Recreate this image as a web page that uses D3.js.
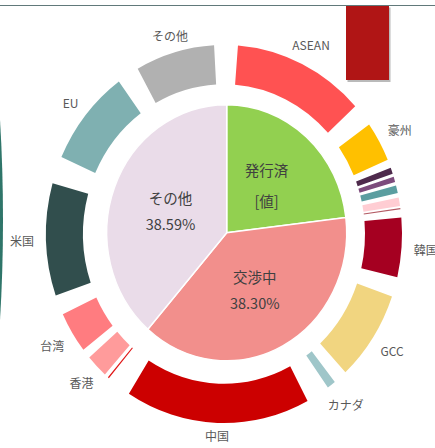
<!DOCTYPE html>
<html>
<head>
<meta charset="utf-8">
<script src="https://cdn.jsdelivr.net/npm/d3@7"></script>
<style>
  body { margin: 0; background: #fff; }
  text { font-family: "Noto Sans CJK JP", "Noto Sans", sans-serif; }
</style>
</head>
<body>
<script>
// 内側の円グラフ
const pieLabels = ["発行済", "交渉中", "その他"];
const pieValues = [23.11, 38.30, 38.59];
const pieValueText = ["[値]", null, null];   // 1つ目はExcelのプレースホルダのまま
const pieColors = ["#92d050", "#f28f8c", "#eadce9"];

// 外側のリング（相手国・地域）、角度の比率で読み取り
const ringLabels = ["ASEAN", "豪州", "", "", "", "", "", "韓国", "GCC", "カナダ", "中国", "", "香港", "台湾", "米国", "EU", "その他"];
const ringValues = [43.0, 12.3, 1.9, 1.6, 2.4, 2.6, 0.4, 18.2, 27.7, 2.8, 60.3, 0.4, 7.2, 12.7, 34.6, 29.8, 25.8];
// 各セグメントの前のすき間（最後の値は末尾のすき間）
const ringGaps = [4.5, 7.1, 2.6, 1.0, 1.1, 1.4, 0.6, 2.5, 6.1, 4.5, 7.7, 8.0, 1.3, 3.0, 6.1, 8.4, 7.2, 3.2];
const ringColors = ["#ff5252", "#ffc000", "#4e2a4c", "#7d4b7c", "#5b9ea0", "#ffcdd3", "#b35a64",
                    "#a50021", "#f1d580", "#9fc6c9", "#cc0000", "#e01818", "#ff9b9b", "#ff7c80",
                    "#314e4d", "#7fb0b1", "#b1b1b1"];

const W = 435, H = 448;
const svg = d3.select("body").append("svg")
    .attr("width", W).attr("height", H)
    .attr("viewBox", `0 0 ${W} ${H}`);

// 上の枠線
svg.append("line")
    .attr("x1", 0).attr("x2", W).attr("y1", 5.5).attr("y2", 5.5)
    .style("stroke", "#61797a").style("stroke-width", 1);

// 左端に切れている図形
const grad = svg.append("defs").append("linearGradient").attr("id", "edge")
    .attr("x1", "0").attr("x2", "1").attr("y1", "0").attr("y2", "0");
grad.append("stop").attr("offset", "0%").attr("stop-color", "#7fb2a8");
grad.append("stop").attr("offset", "100%").attr("stop-color", "#2d7468");
svg.append("ellipse")
    .attr("cx", -37).attr("cy", 220).attr("rx", 40).attr("ry", 263)
    .style("fill", "url(#edge)");

// 右上に切れている棒
svg.append("rect").attr("x", 347.5).attr("y", 7.5).attr("width", 43).attr("height", 74.5)
    .style("fill", "#8c8c8c").style("opacity", 0.6);
svg.append("rect").attr("x", 346).attr("y", 6).attr("width", 43).attr("height", 74)
    .style("fill", "#b01515");

// ---- リング ----
const ringCx = 224, ringCy = 234, ringSy = 1.062;
const rIn = 141, rOut = 178;

let ringData = [];
ringValues.forEach((v, i) => {
    ringData.push({gap: true, v: ringGaps[i]});
    ringData.push({gap: false, v: v, label: ringLabels[i], color: ringColors[i]});
});
ringData.push({gap: true, v: ringGaps[ringGaps.length - 1]});

const ringPie = d3.pie().sort(null).value(d => d.v);
const ringArcs = ringPie(ringData).filter(d => !d.data.gap);
const ringArc = d3.arc().innerRadius(rIn).outerRadius(rOut);

const ringG = svg.append("g")
    .attr("transform", `translate(${ringCx},${ringCy}) scale(1,${ringSy})`);
ringG.selectAll("path.seg")
    .data(ringArcs)
    .enter().append("path")
    .attr("class", "seg")
    .attr("d", ringArc)
    .style("fill", d => d.data.color);

// ラベル（リングの外側）
const labG = svg.append("g").attr("transform", `translate(${ringCx},${ringCy})`);
const lab = labG.selectAll("text.lab")
    .data(ringArcs.filter(d => d.data.label))
    .enter().append("text")
    .attr("class", "lab")
    .attr("text-anchor", "middle")
    .attr("dominant-baseline", "central")
    .style("font-size", "12px")
    .style("fill", "#595959")
    .text(d => d.data.label);

lab.each(function(d) {
    const a = (d.startAngle + d.endAngle) / 2;
    const hw = this.getComputedTextLength() / 2;
    const r = 186 + (hw + 4) * Math.abs(Math.sin(a)) + 3 * Math.abs(Math.cos(a));
    d3.select(this)
        .attr("x", r * Math.sin(a))
        .attr("y", -r * Math.cos(a) * ringSy);
});

// ---- 円グラフ ----
const pieCx = 226.7, pieCy = 232.7, pieSy = 1.067, pieR = 120;
const pie = d3.pie().sort(null).value(d => d)(pieValues);
const pieArc = d3.arc().innerRadius(0).outerRadius(pieR);

const pieG = svg.append("g")
    .attr("transform", `translate(${pieCx},${pieCy}) scale(1,${pieSy})`);
pieG.selectAll("path.slice")
    .data(pie)
    .enter().append("path")
    .attr("class", "slice")
    .attr("d", pieArc)
    .style("fill", (d, i) => pieColors[i])
    .style("stroke", "#fff")
    .style("stroke-width", 1.5)
    .attr("vector-effect", "non-scaling-stroke");

const fmt = d3.format(".2f");
const pieTxt = svg.append("g").attr("transform", `translate(${pieCx},${pieCy})`)
    .selectAll("g.pl")
    .data(pie)
    .enter().append("g")
    .attr("class", "pl")
    .attr("transform", d => {
        const c = pieArc.centroid(d);
        return `translate(${c[0]},${c[1] * pieSy})`;
    });

pieTxt.append("text")
    .attr("text-anchor", "middle")
    .attr("dominant-baseline", "central")
    .attr("y", (d, i) => i === 0 ? -15 : -13)
    .style("font-size", "14.5px")
    .style("fill", "#404040")
    .text((d, i) => pieLabels[i]);

pieTxt.append("text")
    .attr("text-anchor", "middle")
    .attr("dominant-baseline", "central")
    .attr("y", (d, i) => i === 0 ? 16 : 13)
    .style("font-size", "14.5px")
    .style("fill", "#404040")
    .text((d, i) => pieValueText[i] || fmt(pieValues[i]) + "%");
</script>
</body>
</html>
